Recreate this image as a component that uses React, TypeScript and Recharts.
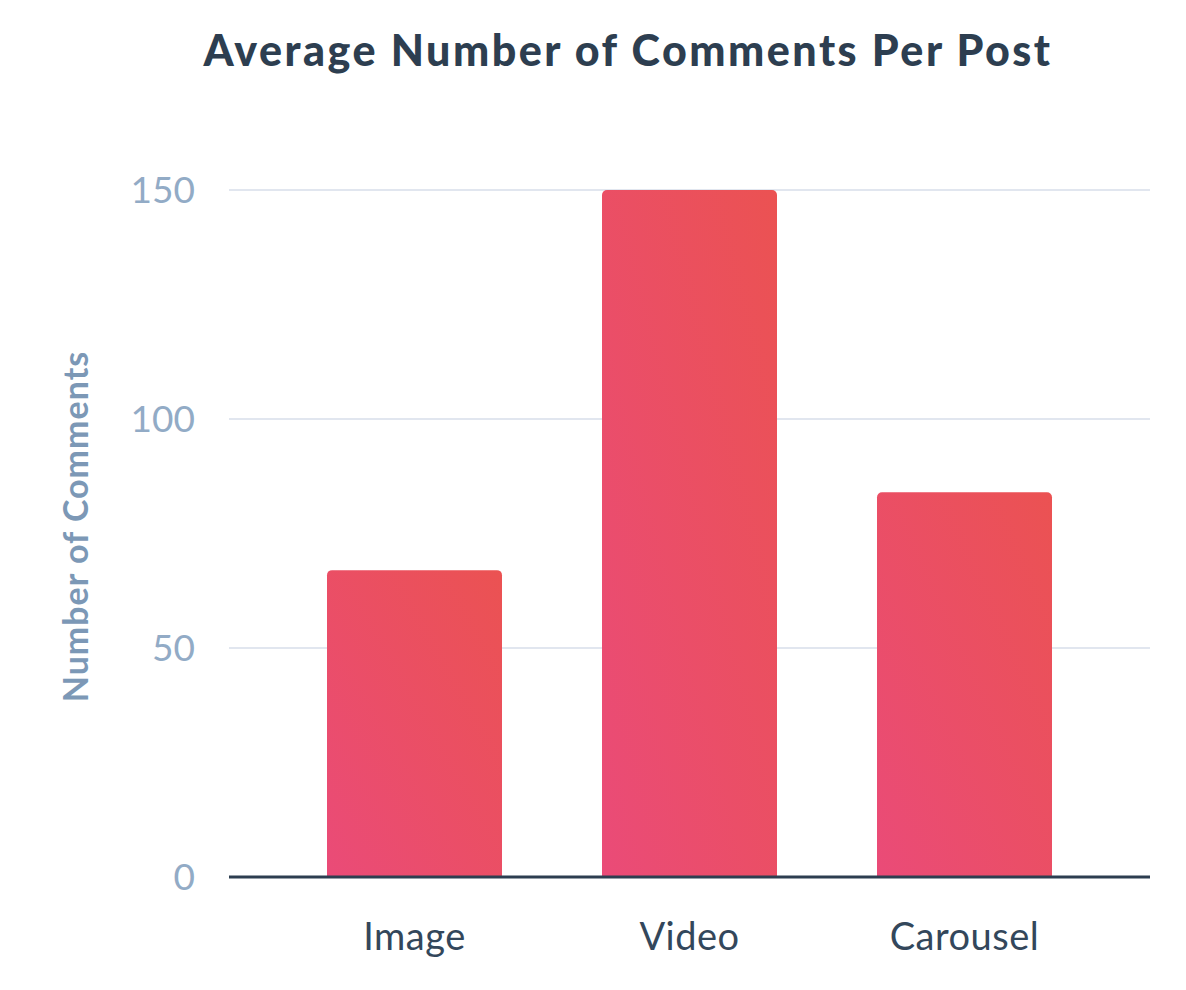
import React from 'react';
import { BarChart, Bar, XAxis, YAxis, CartesianGrid } from 'recharts';

const categories = ['Image', 'Video', 'Carousel'];
const comments = [67, 150, 84];
const yTicks = [0, 50, 100, 150];

const data = categories.map((name, i) => ({ name, comments: comments[i] }));

const YLabel = (props: any) => {
  const { viewBox } = props;
  const x = 66;
  const y = viewBox.y + viewBox.height / 2 - 7;
  return (
    <text
      x={x}
      y={y}
      transform={`rotate(-90, ${x}, ${y})`}
      textAnchor="middle"
      dominantBaseline="central"
      fill="#7c98b6"
      fontSize={34}
      fontWeight={700}
      letterSpacing={1}
      fontFamily="Lato"
    >
      Number of Comments
    </text>
  );
};

const App: React.FC = () => {
  return (
    <div style={{ position: 'relative', width: 1170, height: 974, background: '#fff' }}>
      <div
        style={{
          position: 'absolute',
          top: 20,
          left: 0,
          width: 1240,
          textAlign: 'center',
          fontFamily: 'Lato',
          fontWeight: 900,
          fontSize: 43,
          letterSpacing: 2.5,
          lineHeight: 1,
          color: '#2d3e50',
        }}
      >
        Average Number of Comments Per Post
      </div>
      <BarChart
        width={1170}
        height={974}
        data={data}
        margin={{ top: 182, right: 28, bottom: 45, left: 40 }}
        barCategoryGap={50}
      >
        <defs>
          <linearGradient id="barFill" x1="0" y1="1" x2="1" y2="0">
            <stop offset="0%" stopColor="#ea4b78" />
            <stop offset="100%" stopColor="#eb5252" />
          </linearGradient>
        </defs>
        <CartesianGrid vertical={false} stroke="#e1e6ef" strokeWidth={2} />
        <XAxis
          dataKey="name"
          height={60}
          padding={{ left: 48, right: 48 }}
          tickLine={false}
          tickSize={0}
          tickMargin={46}
          axisLine={{ stroke: '#2d3e50', strokeWidth: 3 }}
          tick={{ fill: '#33475b', fontSize: 38, letterSpacing: 0.5, fontFamily: 'Lato' }}
        />
        <YAxis
          width={181}
          domain={[0, 150]}
          ticks={yTicks}
          axisLine={false}
          tickLine={false}
          tickSize={0}
          tickMargin={34}
          tick={{ fill: '#92abc6', fontSize: 37, fontFamily: 'Lato' }}
          label={<YLabel />}
        />
        <Bar
          dataKey="comments"
          fill="url(#barFill)"
          radius={[5, 5, 0, 0]}
          isAnimationActive={false}
        />
      </BarChart>
    </div>
  );
};

export default App;
